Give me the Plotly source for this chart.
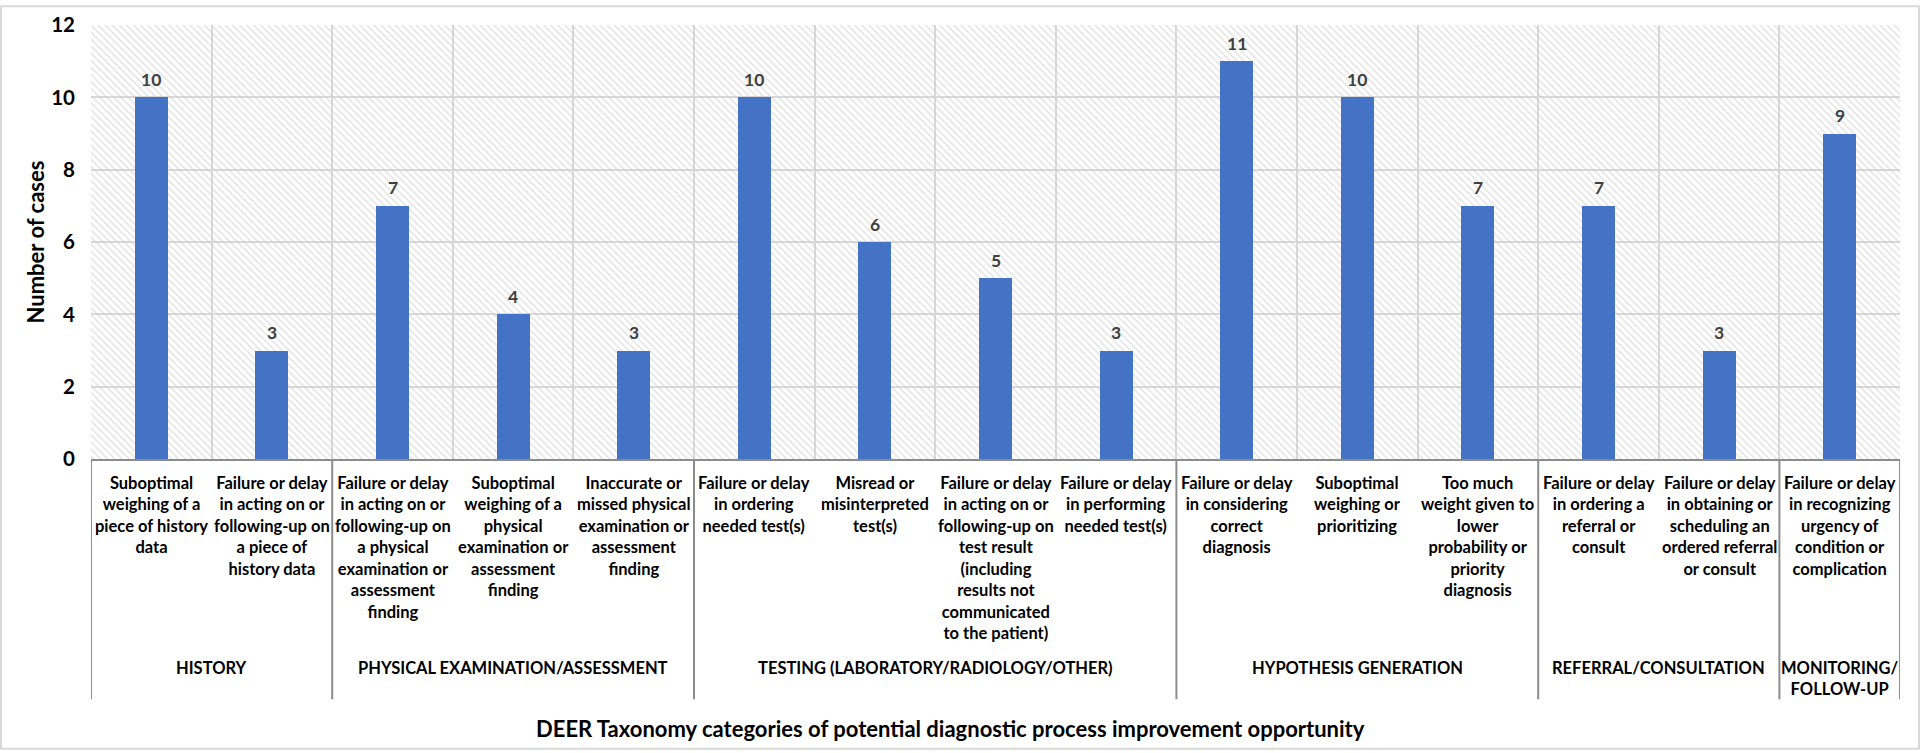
import plotly.graph_objects as go

# ---- data ----
categories = [
    "Suboptimal<br>weighing of a<br>piece of history<br>data",
    "Failure or delay<br>in acting on or<br>following-up on<br>a piece of<br>history data",
    "Failure or delay<br>in acting on or<br>following-up on<br>a physical<br>examination or<br>assessment<br>finding",
    "Suboptimal<br>weighing of a<br>physical<br>examination or<br>assessment<br>finding",
    "Inaccurate or<br>missed physical<br>examination or<br>assessment<br>finding",
    "Failure or delay<br>in ordering<br>needed test(s)",
    "Misread or<br>misinterpreted<br>test(s)",
    "Failure or delay<br>in acting on or<br>following-up on<br>test result<br>(including<br>results not<br>communicated<br>to the patient)",
    "Failure or delay<br>in performing<br>needed test(s)",
    "Failure or delay<br>in considering<br>correct<br>diagnosis",
    "Suboptimal<br>weighing or<br>prioritizing",
    "Too much<br>weight given to<br>lower<br>probability or<br>priority<br>diagnosis",
    "Failure or delay<br>in ordering a<br>referral or<br>consult",
    "Failure or delay<br>in obtaining or<br>scheduling an<br>ordered referral<br>or consult",
    "Failure or delay<br>in recognizing<br>urgency of<br>condition or<br>complication",
]
values = [10, 3, 7, 4, 3, 10, 6, 5, 3, 11, 10, 7, 7, 3, 9]
groups = [
    "HISTORY",
    "PHYSICAL EXAMINATION/ASSESSMENT",
    "TESTING (LABORATORY/RADIOLOGY/OTHER)",
    "HYPOTHESIS GENERATION",
    "REFERRAL/CONSULTATION",
    "MONITORING/<br>FOLLOW-UP",
]
group_sizes = [2, 3, 4, 3, 2, 1]
y_ticks = [0, 2, 4, 6, 8, 10, 12]
y_title = "Number of cases"
x_title = "DEER Taxonomy categories of potential diagnostic process improvement opportunity"

# ---- layout geometry ----
W, H = 1920, 753
ML, MR, MT, MB = 91, 20, 20, 294
PW, PH = W - ML - MR, H - MT - MB
y_max = max(y_ticks)
n = len(values)
xs = list(range(n))

def px_x(p):
    return (p - ML) / PW

def px_y(p):
    return (H - MB - p) / PH

FONT = "Lato"
fig = go.Figure()

# hatched plot background
fig.add_trace(go.Bar(
    x=xs, y=[y_max] * n, width=1,
    marker=dict(color="rgba(0,0,0,0)", line=dict(width=0),
                pattern=dict(shape="\\", fgcolor="#c8c8c8", bgcolor="rgba(0,0,0,0)",
                             size=5, solidity=0.3, fillmode="overlay")),
    hoverinfo="skip", showlegend=False,
))

# data bars
fig.add_trace(go.Bar(
    x=xs, y=values, width=0.275,
    marker=dict(color="#4472C4", line=dict(width=0)),
    showlegend=False,
))

# value labels above bars
for x, v in zip(xs, values):
    fig.add_annotation(x=x, xref="x", y=v, yref="y", yshift=18, yanchor="middle",
                       text=str(v), showarrow=False,
                       font=dict(family=FONT, size=17.5, color="#404040", weight="bold"))

fig.update_layout(
    width=W, height=H,
    margin=dict(l=ML, r=MR, t=MT, b=MB),
    paper_bgcolor="white", plot_bgcolor="white",
    barmode="overlay", bargap=0,
    font=dict(family=FONT, color="#000000"),
    xaxis=dict(range=[-0.5, n - 0.5], tickvals=[i - 0.5 for i in range(n + 1)],
               showticklabels=False, ticks="", showgrid=True, gridcolor="#d9d9d9",
               gridwidth=2, zeroline=False, showline=True, linecolor="#8c8c8c",
               linewidth=2, fixedrange=True),
    yaxis=dict(range=[0, y_max], tickvals=y_ticks, showgrid=True, gridcolor="#d9d9d9",
               gridwidth=2, zeroline=False, showline=False, ticks="",
               tickfont=dict(family=FONT, size=20.5, color="#000000", weight="bold"),
               ticklabelstandoff=15, fixedrange=True),
)

# category labels
for i, c in enumerate(categories):
    fig.add_annotation(x=i, xref="x", y=px_y(471), yref="paper", yanchor="top",
                       text=c, showarrow=False,
                       font=dict(family=FONT, size=16.5, color="#000000", weight="bold"))

# group labels and dividers
line_col = "#8c8c8c"
start = 0
bounds = [-0.5]
for g, s in zip(groups, group_sizes):
    center = start + (s - 1) / 2
    fig.add_annotation(x=center, xref="x", y=px_y(658), yref="paper", yanchor="top",
                       text=g, showarrow=False,
                       font=dict(family=FONT, size=16.5, color="#000000", weight="bold"))
    start += s
    bounds.append(start - 0.5)
for b in bounds:
    fig.add_shape(type="line", xref="x", yref="paper", x0=b, x1=b,
                  y0=0, y1=px_y(702), line=dict(color=line_col, width=2))

# axis titles
fig.add_annotation(x=px_x(950), xref="paper", xanchor="center",
                   y=px_y(732), yref="paper", yanchor="middle",
                   text=x_title, showarrow=False,
                   font=dict(family=FONT, size=22, color="#000000", weight="bold"))
fig.add_annotation(x=px_x(35), xref="paper", xanchor="center",
                   y=px_y(240), yref="paper", yanchor="middle",
                   text=y_title, textangle=-90, showarrow=False,
                   font=dict(family=FONT, size=22, color="#000000", weight="bold"))

# outer chart frame
fig.add_shape(type="rect", xref="paper", yref="paper",
              x0=px_x(1), x1=px_x(W - 1), y0=px_y(H - 1), y1=px_y(1),
              line=dict(color="#d9d9d9", width=2), fillcolor="rgba(0,0,0,0)", layer="below")

fig.write_html("out.html", config={"displayModeBar": False})

# remove the default browser page margin so the figure fills the window exactly
with open("out.html", "r", encoding="utf-8") as f:
    html = f.read()
html = html.replace("<head>", "<head><style>html,body{margin:0;padding:0;overflow:hidden;}</style>", 1)
with open("out.html", "w", encoding="utf-8") as f:
    f.write(html)
